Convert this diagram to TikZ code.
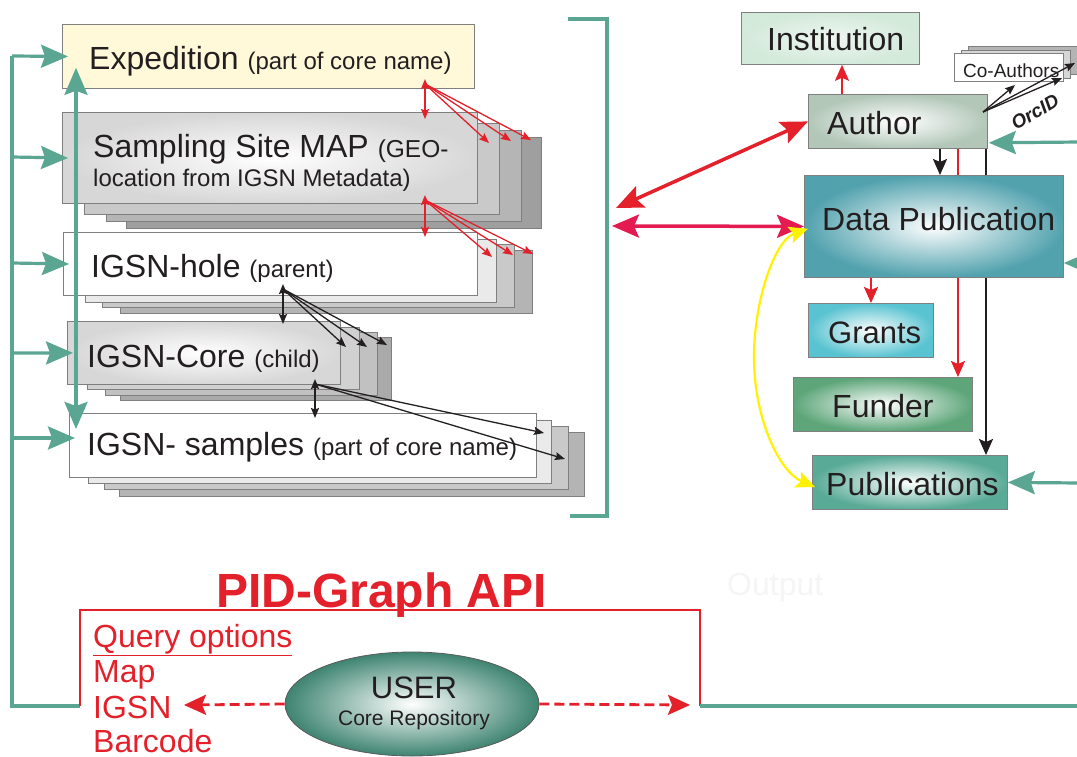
\documentclass[tikz,border=0pt]{standalone}
\usepackage{fontspec}
\setmainfont{Liberation Sans}
\usetikzlibrary{arrows.meta,calc,shapes.geometric}
\definecolor{tgreen}{HTML}{5BA693}
\definecolor{ared}{HTML}{E4202A}
\definecolor{apink}{HTML}{E31B50}
\definecolor{ink}{HTML}{231F20}
\definecolor{bord}{HTML}{7F7F7F}
\definecolor{expfill}{HTML}{FFF9DA}
\definecolor{instfill}{HTML}{D3E9DA}
\definecolor{authfill}{HTML}{B2C7B8}
\definecolor{dpfill}{HTML}{52A2AE}
\definecolor{grantfill}{HTML}{59C3D1}
\definecolor{fundfill}{HTML}{5EA67A}
\definecolor{pubfill}{HTML}{59AA97}
\definecolor{userfill}{HTML}{3E8470}
\definecolor{yel}{HTML}{FFF200}
\newcommand\myfs[1]{\fontsize{#1}{#1}\selectfont}
\pgfdeclarelayer{bg}
\pgfsetlayers{bg,main}
\begin{document}
\begin{tikzpicture}[x=1pt,y=-1pt,
  box/.style={draw=bord,line width=0.8pt,inner sep=0pt,anchor=north west},
  lay/.style={draw=bord,line width=0.8pt},
  txt/.style={anchor=base west,inner sep=0pt,text=ink},
  gline/.style={draw=tgreen,line width=3.2pt},
  garr/.style={gline,-{Stealth[length=27pt,width=23pt,inset=4pt]}},
  gdbl/.style={gline,{Stealth[length=27pt,width=23pt,inset=4pt]}-{Stealth[length=27pt,width=23pt,inset=4pt]}},
  sarr/.style={line width=1.3pt,-{Stealth[length=10pt,width=8pt,inset=1.5pt]}},
  sdbl/.style={line width=1.3pt,{Stealth[length=10pt,width=8pt,inset=1.5pt]}-{Stealth[length=10pt,width=8pt,inset=1.5pt]}},
  marr/.style={line width=2pt,-{Stealth[length=16pt,width=14pt,inset=3pt]}},
  bdbl/.style={line width=3.5pt,{Stealth[length=27pt,width=23pt,inset=5pt]}-{Stealth[length=27pt,width=23pt,inset=5pt]}},
  ydbl/.style={draw=yel,line width=2.2pt,{Stealth[length=19pt,width=17pt,inset=4pt]}-{Stealth[length=19pt,width=17pt,inset=4pt]}},
  darr/.style={draw=ared,line width=2.8pt,dash pattern=on 10pt off 5pt,-{Stealth[length=22pt,width=20pt,inset=4pt]}},
]
\useasboundingbox (0,0) rectangle (1077,756);
\begin{pgfonlayer}{bg}
\fill[white] (0,0) rectangle (1077,756);
\end{pgfonlayer}

% ---------- left stack ----------
\node[box,fill=expfill,minimum width=412pt,minimum height=64pt] (exp) at (62,24) {};
\node[txt,font=\myfs{32}] (expT) at (89,69) {Expedition {\myfs{24}(part of core name)}};

% sampling layers
\path[lay,fill={rgb,255:red,158;green,159;blue,158}] (126,137) rectangle (541,228);
\path[lay,fill={rgb,255:red,180;green,181;blue,180}] (106,130) rectangle (521,221);
\path[lay,fill={rgb,255:red,200;green,201;blue,200}] (84,123) rectangle (499,214);
\node[box,inner color=white,outer color={rgb,255:red,214;green,215;blue,214},minimum width=415pt,minimum height=91pt] (samp) at (62,112) {};
\node[txt,font=\myfs{32}] (sampT) at (93,157) {Sampling Site MAP {\myfs{24.5}(GEO-}};
\node[txt,font=\myfs{24}] (sampT2) at (93,186) {location from IGSN Metadata)};

% hole layers
\path[lay,fill={rgb,255:red,179;green,180;blue,179}] (120,250) rectangle (532,313);
\path[lay,fill={rgb,255:red,200;green,201;blue,200}] (102,244) rectangle (514,307);
\path[lay,fill={rgb,255:red,233;green,234;blue,233}] (85,239) rectangle (496,302);
\node[box,fill=white,minimum width=414pt,minimum height=63pt] (hole) at (63,232) {};
\node[txt,font=\myfs{32}] (holeT) at (91,277) {IGSN-hole {\myfs{24}(parent)}};

% core layers
\path[lay,fill={rgb,255:red,169;green,170;blue,169}] (120,337) rectangle (391,400);
\path[lay,fill={rgb,255:red,192;green,193;blue,192}] (105,332) rectangle (377,395);
\path[lay,fill={rgb,255:red,208;green,209;blue,208}] (87,327) rectangle (359,389);
\node[box,inner color=white,outer color={rgb,255:red,214;green,215;blue,214},minimum width=273pt,minimum height=63pt] (core) at (67,321) {};
\node[txt,font=\myfs{32}] (coreT) at (87,367) {IGSN-Core {\myfs{24}(child)}};

% samples layers
\path[lay,fill={rgb,255:red,179;green,180;blue,179}] (119,432) rectangle (584,496);
\path[lay,fill={rgb,255:red,200;green,201;blue,200}] (104,426) rectangle (568,489);
\path[lay,fill={rgb,255:red,233;green,234;blue,233}] (88,420) rectangle (551,483);
\node[box,fill=white,minimum width=467pt,minimum height=64pt] (smp) at (69,413) {};
\node[txt,font=\myfs{32}] (smpT) at (87,455) {IGSN- samples {\myfs{24}(part of core name)}};

% small arrows between stack levels
\coordinate (r1) at (425,84);
\draw[ared,sdbl] (425,79) -- (425,119);
\draw[ared,sarr] (r1) -- (489,143);
\draw[ared,sarr] (r1) -- (511,141);
\draw[ared,sarr] (r1) -- (531,140);
\coordinate (r2) at (425,200);
\draw[ared,sdbl] (425,195) -- (425,237);
\draw[ared,sarr] (r2) -- (492,257);
\draw[ared,sarr] (r2) -- (513,255);
\draw[ared,sarr] (r2) -- (533,254);
\coordinate (k1) at (283,289);
\draw[ink,sdbl] (283,284) -- (283,324);
\draw[ink,sarr] (k1) -- (346,347);
\draw[ink,sarr] (k1) -- (367,347);
\draw[ink,sarr] (k1) -- (387,345);
\coordinate (k2) at (315,384);
\draw[ink,sdbl] (315,379) -- (315,418);
\draw[ink,sarr] (k2) -- (544,433);
\draw[ink,sarr] (k2) -- (565,459);

% green loop on the left
\coordinate (gtop) at (12,56);
\coordinate (gbot) at (12,706);
\draw[gline] (80,706) -- (gbot) -- (gtop);
\draw[garr,shorten >=-6pt] (gtop) -- (exp.west);
\draw[garr,shorten >=-6pt] (12,157) -- (samp.west);
\draw[garr,shorten >=-6pt] (12,263) -- (hole.west);
\draw[garr,shorten >=-6pt] (12,353) -- (core.west);
\draw[garr,shorten >=-6pt] (12,438) -- ($(smp.north west)+(0,25)$);
\draw[gdbl] ($(exp.south west)+(14,-21)$) -- ($(smp.north west)+(7,16)$);

% bracket
\coordinate (bk1) at (568,19);
\coordinate (bk2) at (607,19);
\coordinate (bk3) at (607,516);
\coordinate (bk4) at (570,516);
\draw[gline] (bk1) -- (bk2) -- (bk3) -- (bk4);

% ---------- right side ----------
\node[box,inner color={rgb,255:red,238;green,247;blue,241},outer color=instfill,minimum width=178pt,minimum height=52pt] (inst) at (741,12) {};
\node[txt,font=\myfs{32}] (instT) at (767,50) {Institution};

\node[box,inner color=white,outer color=authfill,minimum width=179pt,minimum height=54pt] (auth) at (808,94) {};
\node[txt,font=\myfs{32}] (authT) at (827,134) {Author};

% co-authors stack
\path[lay,fill={rgb,255:red,180;green,180;blue,180}] (968,46) rectangle (1077,74);
\path[lay,fill={rgb,255:red,214;green,214;blue,214}] (961,50) rectangle (1070,78);
\node[box,fill=white,minimum width=109pt,minimum height=28pt] (coa) at (954,53) {};
\node[txt,font=\myfs{19}] (coaT) at (963,77) {Co-Authors};
\coordinate (ao) at (983,112);
\draw[ink,sarr] (ao) -- (1015,85);
\draw[ink,sarr] (ao) -- (1062,78);
\draw[ink,sarr] (ao) -- (1075,63);
\node[rotate=31,inner sep=0pt,text=ink,font=\bfseries\itshape\myfs{19}] (orc) at (1035,112) {OrcID};

\node[box,inner color=white,outer color=dpfill,minimum width=259pt,minimum height=102pt] (dp) at (804,175) {};
\node[txt,font=\myfs{32}] (dpT) at (822,230) {Data Publication};

\node[box,inner color=white,outer color=grantfill,minimum width=125pt,minimum height=54pt] (gr) at (808,303) {};
\node[txt,font=\myfs{31}] (grT) at (828,343) {Grants};

\node[box,inner color=white,outer color=fundfill,minimum width=179pt,minimum height=54pt] (fu) at (793,377) {};
\node[txt,font=\myfs{32}] (fuT) at (832,417) {Funder};

\node[box,inner color=white,outer color=pubfill,minimum width=195pt,minimum height=54pt] (pub) at (812,455) {};
\node[txt,font=\myfs{32}] (pubT) at (826,495) {Publications};

% long lines behind the data publication box
\begin{pgfonlayer}{bg}
\draw[ared,marr] ($(auth.south west)+(150,0)$) -- ($(fu.north west)+(165,0)$);
\draw[ink,marr] ($(auth.south west)+(178,0)$) -- ($(pub.north west)+(174,0)$);
\end{pgfonlayer}
\draw[ared,marr] ($(auth.north west)+(34,0)$) -- ($(inst.south west)+(101,0)$);
\draw[ink,marr] ($(auth.south west)+(132,0)$) -- ($(dp.north west)+(136,0)$);
\draw[ared,marr] ($(dp.south west)+(67,0)$) -- ($(gr.north west)+(63,0)$);

% green arrows from the right edge
\draw[garr] (1080,142) -- ($(auth.south east)+(1,-6)$);
\draw[garr] (1092,263) -- ($(dp.north east)+(0,88)$);
\draw[garr] (1080,483) -- (pub.east);

% arrows to the bracket
\coordinate (bA) at (616,208);
\coordinate (bB) at (612,226);
\draw[ared,bdbl] (bA) -- (auth.west);
\draw[apink,bdbl] (bB) -- (dp.west);

% yellow curve
\draw[ydbl] ($(dp.south west)+(4,-49)$) .. controls (775,240) and (754,300) .. (754,357) .. controls (754,420) and (780,472) .. ($(pub.north west)+(3,32)$);

% ---------- bottom: API ----------
\node[txt,text=ared,font=\bfseries\myfs{48}] (api) at (216,607) {PID-Graph API};
\node[txt,text=black!4,font=\myfs{32}] (outp) at (727,595) {Output};
\coordinate (rb1) at (80,706);
\coordinate (rb2) at (80,610);
\coordinate (rb3) at (700,610);
\coordinate (rb4) at (700,706);
\draw[ared,line width=2.6pt] (rb1) -- (rb2) -- (rb3) -- (rb4);
\draw[gline] (rb4) -- (1080,706);

\node[txt,text=ared,font=\myfs{32}] (q0) at (93,647) {\underline{Query options}};
\node[txt,text=ared,font=\myfs{32}] (q1) at (93,682) {Map};
\node[txt,text=ared,font=\myfs{32}] (q2) at (93,718) {IGSN};
\node[txt,text=ared,font=\myfs{32}] (q3) at (93,752) {Barcode};

\node[ellipse,draw={rgb,255:red,90;green,90;blue,90},line width=0.8pt,inner color=white,outer color=userfill,minimum width=254pt,minimum height=104pt] (user) at (412,704) {};
\node[anchor=base,inner sep=0pt,text=ink,font=\myfs{31}] (userT) at (414,698) {USER};
\node[anchor=base,inner sep=0pt,text=ink,font=\myfs{21}] (userT2) at (414,725) {Core Repository};

\coordinate (dl) at (184,705);
\coordinate (dr) at (690,705);
\draw[darr] (user.west) -- (dl);
\draw[darr] (user.east) -- (dr);
\end{tikzpicture}
\end{document}
